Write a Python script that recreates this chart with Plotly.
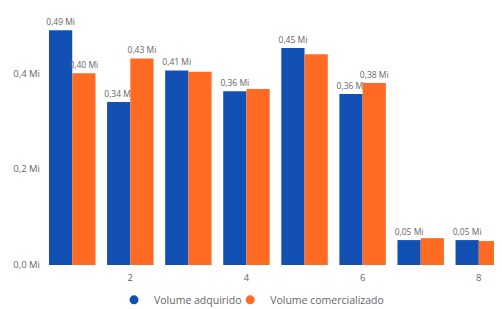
import plotly.graph_objects as go

categories = [1, 2, 3, 4, 5, 6, 7, 8]
volume_adquirido = [0.49, 0.34, 0.406, 0.3625, 0.453, 0.357, 0.052, 0.052]
volume_comercializado = [0.40, 0.431, 0.403, 0.367, 0.44, 0.380, 0.056, 0.050]
show_label_adq = [True, True, True, True, True, True, True, True]
show_label_com = [True, True, False, False, False, True, False, False]
y_ticks = [0, 0.2, 0.4]
y_tick_labels = ["0,0 Mi", "0,2 Mi", "0,4 Mi"]
x_ticks = [2, 4, 6, 8]

BLUE = "#1350B3"
ORANGE = "#FF6B22"
GREY = "#666666"
FONT = "Open Sans"


def labels(vals, show):
    return [(f"{v:.2f}".replace(".", ",") + " Mi") if s else "" for v, s in zip(vals, show)]


fig = go.Figure()
fig.add_trace(go.Bar(
    x=categories, y=volume_adquirido, name="Volume adquirido",
    marker=dict(color=BLUE, line=dict(width=0)),
    text=labels(volume_adquirido, show_label_adq), textposition="outside",
    constraintext="none", cliponaxis=False,
    textfont=dict(family=FONT, size=8.5, color=GREY), showlegend=False,
))
fig.add_trace(go.Bar(
    x=categories, y=volume_comercializado, name="Volume comercializado",
    marker=dict(color=ORANGE, line=dict(width=0)),
    text=labels(volume_comercializado, show_label_com), textposition="outside",
    constraintext="none", cliponaxis=False,
    textfont=dict(family=FONT, size=8.5, color=GREY), showlegend=False,
))
# legend entries with circular markers (one legend box per entry for tight spacing)
for nm, col, lg in [("Volume adquirido", BLUE, "legend"), ("Volume comercializado", ORANGE, "legend2")]:
    fig.add_trace(go.Scatter(
        x=[None], y=[None], mode="markers", name=nm, legend=lg,
        marker=dict(symbol="circle", size=9, color=col),
    ))

legend_style = dict(orientation="h", y=-0.08, yanchor="top", xanchor="left",
                    font=dict(family=FONT, size=10.5, color=GREY),
                    itemwidth=30, bgcolor="rgba(0,0,0,0)")

# the page body has an 8px margin, so the figure is sized to fill the rest of the window
fig.update_layout(
    width=494, height=301,
    margin=dict(l=41, r=0, t=3, b=44, autoexpand=False),
    paper_bgcolor="white", plot_bgcolor="white",
    barmode="group", bargap=0.2, bargroupgap=0,
    separators=",.",
    font=dict(family=FONT, size=9, color=GREY),
    showlegend=True,
    legend=dict(x=0.1435, **legend_style),
    legend2=dict(x=0.40, **legend_style),
)
fig.update_xaxes(range=[0.6, 8.4], tickvals=x_ticks, ticktext=[str(t) for t in x_ticks],
                 showgrid=False, zeroline=False, showline=False, ticks="",
                 automargin=False, ticklabelstandoff=5,
                 tickfont=dict(family=FONT, size=9.5, color=GREY))
fig.update_yaxes(range=[0, 0.53], tickvals=y_ticks, ticktext=y_tick_labels,
                 showgrid=False, zeroline=False, showline=False, ticks="",
                 automargin=False, ticklabelstandoff=8,
                 tickfont=dict(family=FONT, size=9.5, color=GREY))

fig.write_html("out.html")
